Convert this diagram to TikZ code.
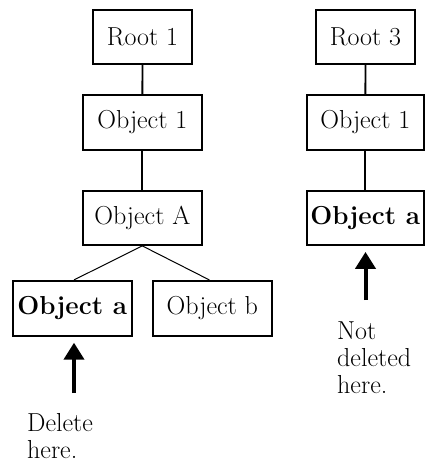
\documentclass[tikz,border=0pt]{standalone}
\usetikzlibrary{arrows.meta}
\begin{document}
\begin{tikzpicture}[x=1pt,y=-1pt,
  box/.style={draw,line width=1.8pt,inner sep=0pt,font=\fontsize{26}{27}\selectfont},
  link/.style={line width=1.8pt},
  thin link/.style={line width=1pt},
  bigarrow/.style={line width=4pt,-{Triangle[width=20pt,length=17pt]},shorten >=6pt},
  label/.style={inner sep=0pt,align=left,anchor=north west,font=\fontsize{26}{27}\selectfont}]
\useasboundingbox (0,0) rectangle (428,462);
% left tree
\node[box,minimum width=99pt,minimum height=54pt] (r1) at (142.5,37) {Root 1};
\node[box,minimum width=119pt,minimum height=55pt] (o1) at (142.3,122.3) {Object 1};
\node[box,minimum width=119pt,minimum height=54pt] (oA) at (142.3,218) {Object A};
\node[box,minimum width=119pt,minimum height=55pt] (oa) at (72.3,308.3) {\bfseries Object a};
\node[box,minimum width=119pt,minimum height=55pt] (ob) at (212.3,308.3) {Object b};
\draw[link] (r1) -- (o1);
\draw[link] (o1) -- (oA);
\draw[thin link] (oA.south) -- ([xshift=1.7pt]oa.north);
\draw[thin link] (oA.south) -- ([xshift=-3pt]ob.north);
\coordinate (la) at (74,393);
\draw[bigarrow] (la) -- (la |- oa.south);
\node[label] (lt) at (27,413) {Delete\\here.};
% right tree
\node[box,minimum width=99pt,minimum height=54pt] (r3) at (365.5,37) {Root 3};
\node[box,minimum width=117pt,minimum height=55pt] (o1r) at (365.3,122.3) {Object 1};
\node[box,minimum width=117pt,minimum height=54pt] (oar) at (365.3,218) {\bfseries Object a};
\draw[link] (r3) -- (o1r);
\draw[link] (o1r) -- (oar);
\coordinate (ra) at (365.5,300);
\draw[bigarrow] (ra) -- (ra |- oar.south);
\node[label] (rt) at (337,322) {Not\\deleted\\here.};
\end{tikzpicture}
\end{document}
